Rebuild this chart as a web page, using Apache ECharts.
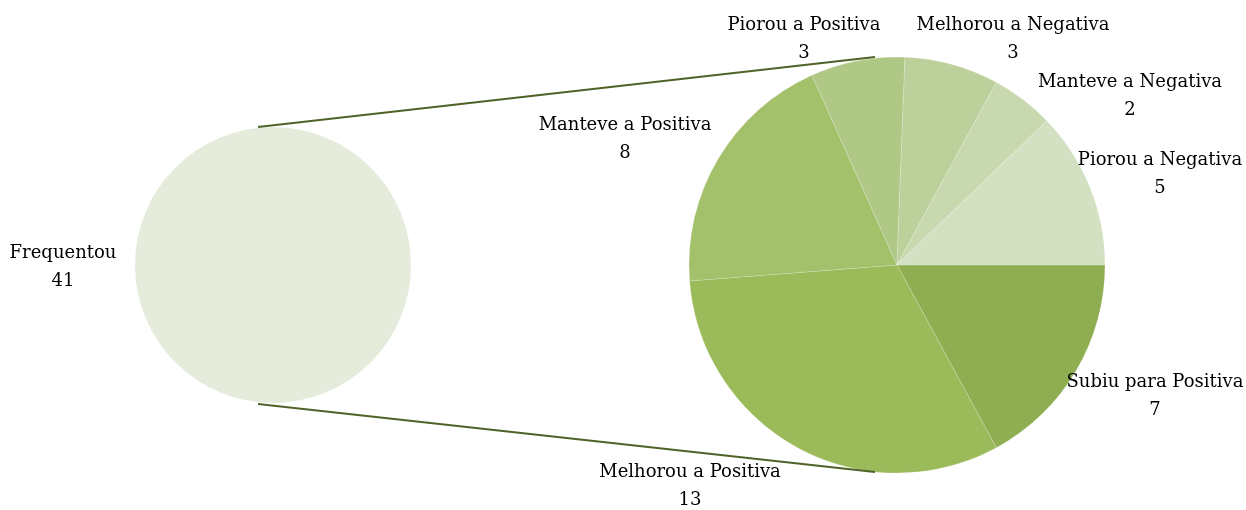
<!DOCTYPE html>
<html>
<head>
<meta charset="utf-8">
<script src="https://cdn.jsdelivr.net/npm/echarts@6/dist/echarts.min.js"></script>
<style>
  html, body { margin: 0; padding: 0; background: #fff; }
  #chart { width: 1246px; height: 510px; }
</style>
</head>
<body>
<div id="chart"></div>
<script>
// dados
const mainName = 'Frequentou'
const mainValue = 41

const detailNames = [
  'Subiu para Positiva',
  'Melhorou a Positiva',
  'Manteve a Positiva',
  'Piorou a Positiva',
  'Melhorou a Negativa',
  'Manteve a Negativa',
  'Piorou a Negativa',
]
const detailValues = [7, 13, 8, 3, 3, 2, 5]

const detailColors = ['#8fae52', '#9bba59', '#a3c06b', '#afc886', '#bcd09b', '#c8d8af', '#d3e0c1']
const mainColor = '#e5ecdc'
const lineColor = '#4f6228'

// geometria
const leftCenter = [273, 265]
const leftR = 138
const rightCenter = [897, 265]
const rightR = 208

// posição dos rótulos (centro do texto)
const detailLabelPos = [
  [1155, 396],
  [690, 486],
  [625, 139],
  [804, 39],
  [1013, 39],
  [1130, 96],
  [1160, 174],
]
const mainLabelPos = [63, 267]

const font = '"DejaVu Serif", serif'

const chart = echarts.init(document.getElementById('chart'))

const labelStyle = {
  show: true,
  position: 'outside',
  formatter: '{b}\n{c}',
  fontFamily: font,
  fontSize: 18,
  lineHeight: 28,
  color: '#000',
  align: 'center',
  overflow: 'none',
}

chart.setOption({
  animation: false,
  graphic: [
    {
      type: 'line',
      shape: { x1: leftCenter[0] - 15, y1: leftCenter[1] - leftR, x2: rightCenter[0] - 22, y2: rightCenter[1] - rightR },
      style: { stroke: lineColor, lineWidth: 2.2 },
      z: 10,
    },
    {
      type: 'line',
      shape: { x1: leftCenter[0] - 15, y1: leftCenter[1] + leftR + 1, x2: rightCenter[0] - 22, y2: rightCenter[1] + rightR - 1 },
      style: { stroke: lineColor, lineWidth: 2.2 },
      z: 10,
    },
  ],
  series: [
    {
      type: 'pie',
      center: leftCenter,
      radius: leftR,
      silent: true,
      data: [{ name: mainName, value: mainValue }],
      itemStyle: { color: mainColor },
      label: labelStyle,
      labelLine: { show: false },
      labelLayout: () => ({ x: mainLabelPos[0], y: mainLabelPos[1], align: 'center', verticalAlign: 'middle' }),
    },
    {
      type: 'pie',
      center: rightCenter,
      radius: rightR,
      startAngle: 0,
      clockwise: true,
      silent: true,
      data: detailNames.map((n, i) => ({ name: n, value: detailValues[i], itemStyle: { color: detailColors[i] } })),
      itemStyle: { borderColor: 'rgba(255,255,255,0.35)', borderWidth: 0.5 },
      label: labelStyle,
      labelLine: { show: false },
      labelLayout: (p) => ({
        x: detailLabelPos[p.dataIndex][0],
        y: detailLabelPos[p.dataIndex][1],
        align: 'center',
        verticalAlign: 'middle',
      }),
    },
  ],
})
</script>
</body>
</html>
